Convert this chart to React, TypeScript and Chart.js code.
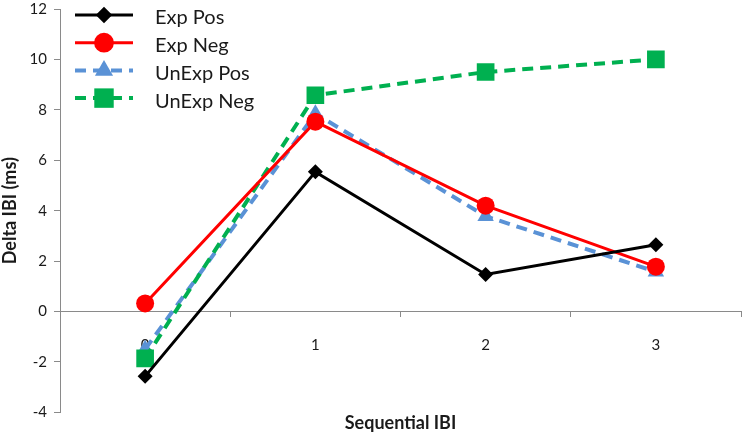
import React, { useEffect, useRef } from "react";
import { Chart, registerables } from "chart.js";

Chart.register(...registerables);

const categories = ["0", "1", "2", "3"];
const seriesNames = ["Exp Pos", "Exp Neg", "UnExp Pos", "UnExp Neg"];
const expPos = [-2.57, 5.54, 1.47, 2.65];
const expNeg = [0.32, 7.53, 4.2, 1.78];
const unExpPos = [-1.5, 7.85, 3.78, 1.58];
const unExpNeg = [-1.86, 8.58, 9.5, 10.0];
const yTicks = [-4, -2, 0, 2, 4, 6, 8, 10, 12];

const FONT = 'Lato, "Liberation Sans", sans-serif';
const TEXT = "#1a1a1a";
const AXIS = "#8a8a8a";

function drawMarker(ctx: CanvasRenderingContext2D, style: string, x: number, y: number, r: number, color: string) {
  ctx.save();
  ctx.fillStyle = color;
  ctx.beginPath();
  if (style === "rectRot") {
    ctx.moveTo(x - r, y);
    ctx.lineTo(x, y - r);
    ctx.lineTo(x + r, y);
    ctx.lineTo(x, y + r);
    ctx.closePath();
  } else if (style === "circle") {
    ctx.arc(x, y, r, 0, Math.PI * 2);
  } else if (style === "triangle") {
    let rad = 0;
    ctx.moveTo(x + Math.sin(rad) * r, y - Math.cos(rad) * r);
    rad += (2 * Math.PI) / 3;
    ctx.lineTo(x + Math.sin(rad) * r, y - Math.cos(rad) * r);
    rad += (2 * Math.PI) / 3;
    ctx.lineTo(x + Math.sin(rad) * r, y - Math.cos(rad) * r);
    ctx.closePath();
  } else {
    const s = Math.SQRT1_2 * r;
    ctx.rect(x - s, y - s, 2 * s, 2 * s);
  }
  ctx.fill();
  ctx.restore();
}

const legendPlugin = {
  id: "excelLegend",
  afterDatasetsDraw(chart: any) {
    const ctx: CanvasRenderingContext2D = chart.ctx;
    const area = chart.chartArea;
    const x0 = area.left + 15;
    const x1 = area.left + 73;
    const xm = (x0 + x1) / 2;
    const xt = area.left + 95;
    chart.data.datasets.forEach((ds: any, i: number) => {
      const y = area.top + 6 + i * 27.7;
      ctx.save();
      ctx.strokeStyle = ds.borderColor;
      ctx.lineWidth = ds.borderWidth;
      ctx.setLineDash(ds.borderDash || []);
      ctx.beginPath();
      ctx.moveTo(x0, y);
      ctx.lineTo(x1, y);
      ctx.stroke();
      ctx.setLineDash([]);
      drawMarker(ctx, ds.pointStyle, xm, y, ds.pointRadius * 1.1, ds.pointBackgroundColor);
      ctx.fillStyle = TEXT;
      ctx.font = `20px ${FONT}`;
      ctx.textBaseline = "middle";
      ctx.textAlign = "left";
      ctx.fillText(ds.label, xt, y + 3);
      ctx.restore();
    });
  },
};

export default function App() {
  const ref = useRef<HTMLCanvasElement | null>(null);

  useEffect(() => {
    if (!ref.current) return;
    const chart = new Chart(ref.current, {
      type: "line",
      data: {
        labels: categories,
        datasets: [
          {
            label: seriesNames[0],
            data: expPos,
            borderColor: "#000000",
            backgroundColor: "#000000",
            pointBackgroundColor: "#000000",
            pointBorderColor: "#000000",
            borderWidth: 3,
            pointStyle: "rectRot",
            pointRadius: 7.5,
            pointBorderWidth: 0,
            order: 0,
          },
          {
            label: seriesNames[1],
            data: expNeg,
            borderColor: "#FF0000",
            backgroundColor: "#FF0000",
            pointBackgroundColor: "#FF0000",
            pointBorderColor: "#FF0000",
            borderWidth: 3,
            pointStyle: "circle",
            pointRadius: 9,
            pointBorderWidth: 0,
            order: 1,
          },
          {
            label: seriesNames[2],
            data: unExpPos,
            borderColor: "#5A92D6",
            backgroundColor: "#5A92D6",
            pointBackgroundColor: "#5A92D6",
            pointBorderColor: "#5A92D6",
            borderWidth: 4,
            borderDash: [11, 7],
            pointStyle: "triangle",
            pointRadius: 9.5,
            pointBorderWidth: 0,
            order: 3,
          },
          {
            label: seriesNames[3],
            data: unExpNeg,
            borderColor: "#00B050",
            backgroundColor: "#00B050",
            pointBackgroundColor: "#00B050",
            pointBorderColor: "#00B050",
            borderWidth: 4,
            borderDash: [11, 7],
            pointStyle: "rect",
            pointRadius: 12.5,
            pointBorderWidth: 0,
            order: 2,
          },
        ],
      },
      options: {
        responsive: false,
        animation: false,
        events: [],
        layout: { autoPadding: false, padding: { left: 0, right: 1, top: 0, bottom: 0 } },
        elements: { line: { tension: 0, fill: false } },
        plugins: {
          legend: { display: false },
          tooltip: { enabled: false },
          title: { display: false },
        },
        scales: {
          x: {
            type: "category",
            position: { y: 0 } as any,
            offset: true,
            grid: {
              offset: true,
              drawOnChartArea: false,
              drawTicks: true,
              tickLength: 5,
              color: AXIS,
            },
            border: { display: true, color: AXIS, width: 1 },
            ticks: { font: { family: FONT, size: 15 }, color: TEXT, padding: 20 },
          },
          x2: {
            type: "category",
            position: "bottom",
            offset: true,
            grid: { display: false, drawTicks: false },
            border: { display: false },
            ticks: { display: false },
            title: {
              display: true,
              text: "Sequential IBI",
              font: { family: FONT, size: 18, weight: "bold" },
              color: TEXT,
              padding: { top: 0, bottom: -1 },
            },
          },
          y: {
            type: "linear",
            min: -4,
            max: 12,
            afterBuildTicks: (s: any) => {
              s.ticks = yTicks.map((v) => ({ value: v }));
            },
            afterFit: (s: any) => {
              s.width = 60;
              s.paddingTop = 9;
              s.paddingBottom = 0;
            },
            grid: {
              drawOnChartArea: false,
              drawTicks: true,
              tickLength: 6,
              color: AXIS,
            },
            border: { display: true, color: AXIS, width: 1 },
            ticks: { font: { family: FONT, size: 15 }, color: TEXT, padding: 7 },
            title: {
              display: true,
              text: "Delta IBI (ms)",
              font: { family: FONT, size: 18, weight: "bold" },
              color: TEXT,
              padding: { top: -1, bottom: 4 },
            },
          },
        },
      },
      plugins: [legendPlugin],
    });
    return () => chart.destroy();
  }, []);

  return (
    <div style={{ position: "absolute", left: 0, top: 0, width: 742, height: 433, background: "#fff" }}>
      <canvas ref={ref} width={742} height={433} style={{ display: "block" }} />
    </div>
  );
}
